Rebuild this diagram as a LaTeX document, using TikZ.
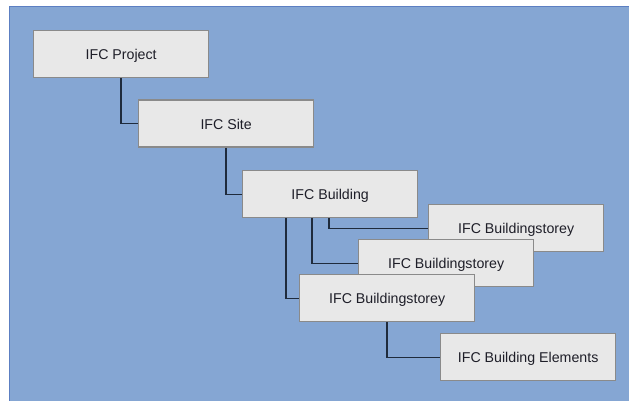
\documentclass[tikz,border=0pt]{standalone}
\usepackage{fontspec}
\setmainfont{Liberation Sans}
\definecolor{bgblue}{HTML}{85A6D3}
\definecolor{bgedge}{HTML}{5C7FC2}
\definecolor{boxfill}{HTML}{E8E8E8}
\definecolor{boxedge}{HTML}{8A8A8A}
\definecolor{linecol}{HTML}{1F2B3C}
\definecolor{txt}{HTML}{1E1E28}
\tikzset{
  ifcbox/.style={draw=boxedge, fill=boxfill, line width=1.3pt, minimum width=175pt, minimum height=47pt,
    inner sep=0pt, text height=10.8pt, text depth=0pt, anchor=north west, text=txt,
    font=\fontsize{14.2}{16}\selectfont},
  conn/.style={draw=linecol, line width=1.3pt}
}
\begin{document}
\begin{tikzpicture}[x=1pt,y=-1pt]
\useasboundingbox (0,0) rectangle (629,401);
\fill[bgblue] (9,6) rectangle (629,401);
\draw[bgedge, line width=1.2pt] (9.6,401) -- (9.6,6.6) -- (629,6.6);
\node[ifcbox] (proj) at (33,30) {IFC Project};
\node[ifcbox] (site) at (138,99.5) {IFC Site};
\node[ifcbox] (bldg) at (242,170) {IFC Building};
\node[ifcbox] (st1) at (428,204) {IFC Buildingstorey};
\node[ifcbox] (st2) at (358,239) {IFC Buildingstorey};
\node[ifcbox] (st3) at (299,274) {IFC Buildingstorey};
\node[ifcbox] (elem) at (440,333) {IFC Building Elements};
\draw[conn] ([xshift=88pt]proj.south west) |- (site.west);
\draw[conn] ([xshift=88pt]site.south west) |- (bldg.west);
\draw[conn] ([xshift=87pt]bldg.south west) |- (st1.west);
\draw[conn] ([xshift=70pt]bldg.south west) |- (st2.west);
\draw[conn] ([xshift=44pt]bldg.south west) |- (st3.west);
\draw[conn] ([xshift=88pt]st3.south west) |- (elem.west);
\end{tikzpicture}
\end{document}
